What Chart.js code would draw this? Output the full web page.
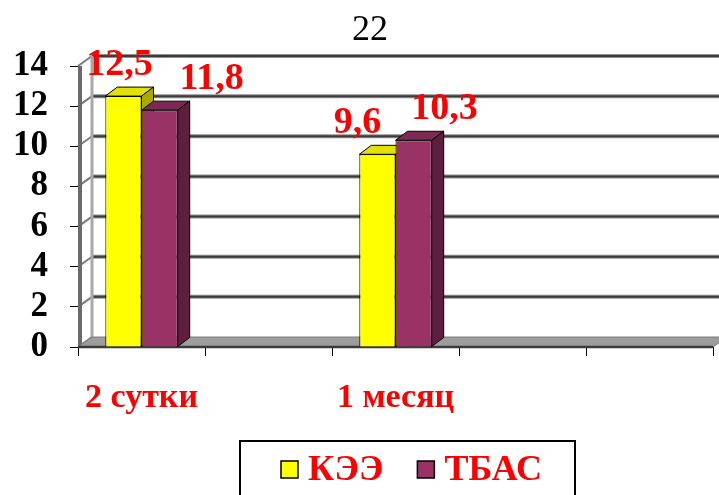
<!DOCTYPE html>
<html>
<head>
<meta charset="utf-8">
<script src="https://cdn.jsdelivr.net/npm/chart.js@4.4.1/dist/chart.umd.min.js"></script>
<style>
  html, body { margin: 0; padding: 0; background: #fff; }
</style>
</head>
<body>
<canvas id="periodChart" width="719" height="495"></canvas>
<script>
const periods = ['2 сутки', '', '1 месяц', '', ''];
const keeValues = [12.5, null, 9.6, null, null];
const tbasValues = [11.8, null, 10.3, null, null];
const seriesNames = ['КЭЭ', 'ТБАС'];
const yTicks = [0, 2, 4, 6, 8, 10, 12, 14];
const chartTitle = '22';

const SERIF = '"Liberation Serif", "Times New Roman", serif';
const WALL = { dx: 14, dy: -10 };
const BAR = { dx: 12, dy: -9 };

// front / top / side colours for each series
const shades = [
  { front: '#ffff00', top: '#e2e200', side: '#a9a900' },
  { front: '#993366', top: '#7c2a54', side: '#5e1f3f' }
];

// horizontal nudges for the value labels, per dataset and visible point
const labelNudge = [[-4, -20], [52, 31]];

function seg(ctx, x1, y1, x2, y2) {
  ctx.beginPath();
  ctx.moveTo(x1, y1);
  ctx.lineTo(x2, y2);
  ctx.stroke();
}

function poly(ctx, pts, fill) {
  ctx.beginPath();
  ctx.moveTo(pts[0][0], pts[0][1]);
  pts.slice(1).forEach(p => ctx.lineTo(p[0], p[1]));
  ctx.closePath();
  ctx.fillStyle = fill;
  ctx.fill();
  ctx.stroke();
}

// top and right side of every bar in one dataset
function drawFaces(chart, d) {
  const { ctx } = chart;
  const sh = shades[d];
  const meta = chart.getDatasetMeta(d);
  ctx.save();
  ctx.strokeStyle = '#000';
  ctx.lineWidth = 1;
  meta.data.forEach((el, i) => {
    if (chart.data.datasets[d].data[i] == null) return;
    const { x, y, base, width } = el.getProps(['x', 'y', 'base', 'width'], true);
    const l = x - width / 2, r = x + width / 2;
    poly(ctx, [[l, y], [r, y], [r + BAR.dx, y + BAR.dy], [l + BAR.dx, y + BAR.dy]], sh.top);
    poly(ctx, [[r, y], [r + BAR.dx, y + BAR.dy], [r + BAR.dx, base + BAR.dy], [r, base]], sh.side);
  });
  ctx.restore();
}

const box3d = {
  id: 'box3d',
  beforeDatasetsDraw(chart) {
    const { ctx, chartArea: a, scales: { y } } = chart;
    ctx.save();

    // back wall grid + side wall diagonals
    y.ticks.forEach(t => {
      const yf = y.getPixelForValue(t.value);
      const yb = yf + WALL.dy;
      if (t.value > 0) {
        ctx.strokeStyle = '#909090';
        ctx.lineWidth = 4;
        seg(ctx, a.left + WALL.dx, yb, chart.width, yb);
        ctx.strokeStyle = '#3c3c3c';
        ctx.lineWidth = 2;
        seg(ctx, a.left + WALL.dx, yb, chart.width, yb);
      }
      ctx.strokeStyle = '#7a7a7a';
      ctx.lineWidth = 2;
      seg(ctx, a.left, yf, a.left + WALL.dx, yb);
    });

    // side wall edges
    ctx.strokeStyle = '#a8a8a8';
    ctx.lineWidth = 3;
    seg(ctx, a.left + WALL.dx, a.top + WALL.dy, a.left + WALL.dx, a.bottom + WALL.dy);
    ctx.strokeStyle = '#6a6a6a';
    ctx.lineWidth = 4;
    seg(ctx, a.left + 2, a.top, a.left + 2, a.bottom);

    // floor
    ctx.strokeStyle = '#7d7d7d';
    ctx.lineWidth = 1;
    poly(ctx, [
      [a.left, a.bottom], [a.right, a.bottom],
      [a.right + WALL.dx, a.bottom + WALL.dy], [a.left + WALL.dx, a.bottom + WALL.dy]
    ], '#9d9d9d');
    ctx.strokeStyle = '#3a3a3a';
    ctx.lineWidth = 2.5;
    seg(ctx, a.left, a.bottom, a.right, a.bottom);
    ctx.restore();

    // the fronts of later series are painted over these faces
    for (let d = 0; d < chart.data.datasets.length - 1; d++) drawFaces(chart, d);
  },

  afterDatasetsDraw(chart) {
    drawFaces(chart, chart.data.datasets.length - 1);

    const { ctx } = chart;
    ctx.save();
    ctx.font = 'bold 38px ' + SERIF;
    ctx.fillStyle = '#ff0000';
    ctx.textAlign = 'center';
    ctx.textBaseline = 'middle';
    chart.data.datasets.forEach((ds, d) => {
      const meta = chart.getDatasetMeta(d);
      let k = 0;
      ds.data.forEach((v, i) => {
        if (v == null) return;
        const el = meta.data[i];
        const text = v.toFixed(1).replace('.', ',');
        ctx.fillText(text, el.x + labelNudge[d][k], el.y - 31);
        k++;
      });
    });
    ctx.restore();
  },

  afterDraw(chart) {
    const { ctx } = chart;
    ctx.save();

    // title
    ctx.font = '36px ' + SERIF;
    ctx.fillStyle = '#000';
    ctx.textAlign = 'center';
    ctx.textBaseline = 'middle';
    ctx.fillText(chartTitle, 370, 31);

    // framed legend
    ctx.textAlign = 'left';
    ctx.strokeStyle = '#000';
    ctx.lineWidth = 2;
    ctx.strokeRect(240, 441, 335, 80);
    ctx.font = 'bold 36px ' + SERIF;
    let x = 281;
    chart.data.datasets.forEach((ds, i) => {
      ctx.fillStyle = shades[i].front;
      ctx.fillRect(x, 461, 17, 17);
      ctx.lineWidth = 1.5;
      ctx.strokeRect(x, 461, 17, 17);
      ctx.fillStyle = '#ff0000';
      ctx.fillText(ds.label, x + 27, 471);
      x += 27 + ctx.measureText(ds.label).width + 34;
    });
    ctx.restore();
  }
};

new Chart(document.getElementById('periodChart'), {
  type: 'bar',
  data: {
    labels: periods,
    datasets: [
      { label: seriesNames[0], data: keeValues,
        backgroundColor: shades[0].front, borderColor: '#000', borderWidth: 1 },
      { label: seriesNames[1], data: tbasValues,
        backgroundColor: shades[1].front, borderColor: '#000', borderWidth: 1 }
    ]
  },
  options: {
    responsive: false,
    animation: false,
    layout: { padding: { left: 0, right: 6, top: 66, bottom: 73 } },
    datasets: { bar: { categoryPercentage: 0.57, barPercentage: 1 } },
    scales: {
      x: {
        offset: true,
        grid: { offset: true, drawOnChartArea: false, color: '#000', tickLength: 9 },
        border: { display: false },
        ticks: {
          color: '#ff0000', padding: 22, maxRotation: 0, autoSkip: false,
          font: { family: SERIF, size: 34, weight: 'bold' }
        },
        afterFit(s) { s.height = 75; }
      },
      y: {
        min: yTicks[0],
        max: yTicks[yTicks.length - 1],
        afterBuildTicks(s) { s.ticks = yTicks.map(v => ({ value: v })); },
        grid: { drawOnChartArea: false, color: '#000', tickLength: 8 },
        border: { display: false },
        ticks: {
          color: '#000', padding: 22, autoSkip: false,
          font: { family: SERIF, size: 35, weight: 'bold' }
        },
        afterFit(s) { s.width = 78; }
      }
    },
    plugins: {
      legend: { display: false },
      tooltip: { enabled: false },
      title: { display: false }
    }
  },
  plugins: [box3d]
});
</script>
</body>
</html>
